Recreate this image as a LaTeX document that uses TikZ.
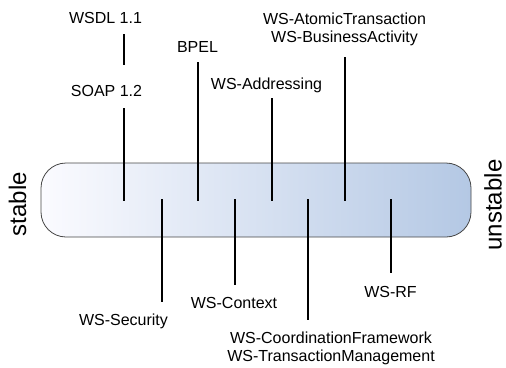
\documentclass[tikz,border=0pt]{standalone}
\usepackage{fontspec}
\setmainfont{Liberation Sans}
\begin{document}
\begin{tikzpicture}[x=1pt,y=-1pt,
  lbl/.style={font=\fontsize{16}{18}\selectfont, inner sep=0pt, align=center},
  side/.style={font=\fontsize{24}{26}\selectfont, inner sep=0pt, rotate=90},
  tick/.style={line width=2.2pt, black},
  band/.style={rounded corners=25pt}]
\useasboundingbox (0,0) rectangle (506,367);

% the stability band
\shade[band, left color=white!96!blue!40!white, right color={rgb,255:red,180;green,200;blue,228}]
  (41,163) rectangle (471,237);
\draw[band, draw={rgb,255:red,70;green,70;blue,70}, line width=0.8pt] (41,163) rectangle (471,237);

% side labels
\node[side] (stable) at (17.5,204) {stable};
\node[side] (unstable) at (493,205) {unstable};

% labels above the band
\node[lbl, anchor=base] (wsdl) at (105.5,23.25) {WSDL 1.1};
\node[lbl, anchor=base] (soap) at (106.5,96.75) {SOAP 1.2};
\node[lbl, anchor=base] (bpel) at (197.5,52.75) {BPEL};
\node[lbl, anchor=base] (wsaddr) at (266.5,89.25) {WS-Addressing};
\node[lbl, anchor=north] (wsat) at (344.5,13) {WS-AtomicTransaction\\WS-BusinessActivity};

% labels below the band
\node[lbl, anchor=base] (wssec) at (123.5,325.75) {WS-Security};
\node[lbl, anchor=base] (wsctx) at (234,308.25) {WS-Context};
\node[lbl, anchor=base] (wsrf) at (390.5,297.75) {WS-RF};
\node[lbl, anchor=north] (wscoord) at (331,331.25) {WS-CoordinationFramework\\WS-TransactionManagement};

% end points of the markers
\coordinate (wsdlA) at (124,34);  \coordinate (wsdlB) at (124,65);
\coordinate (soapA) at (124,108); \coordinate (soapB) at (124,201);
\coordinate (bpelA) at (198,62);  \coordinate (bpelB) at (198,201);
\coordinate (addrA) at (272,98);  \coordinate (addrB) at (272,201);
\coordinate (atA) at (345,57);    \coordinate (atB) at (345,201);
\coordinate (secA) at (162,199);  \coordinate (secB) at (162,302);
\coordinate (ctxA) at (235,199);  \coordinate (ctxB) at (235,285);
\coordinate (coA) at (308,199);   \coordinate (coB) at (308,320);
\coordinate (rfA) at (391,199);   \coordinate (rfB) at (391,273);

% markers
\draw[tick] (wsdlA) -- (wsdlB);
\draw[tick] (soapA) -- (soapB);
\draw[tick] (bpelA) -- (bpelB);
\draw[tick] (addrA) -- (addrB);
\draw[tick] (atA) -- (atB);
\draw[tick] (secA) -- (secB);
\draw[tick] (ctxA) -- (ctxB);
\draw[tick] (coA) -- (coB);
\draw[tick] (rfA) -- (rfB);
\end{tikzpicture}
\end{document}
